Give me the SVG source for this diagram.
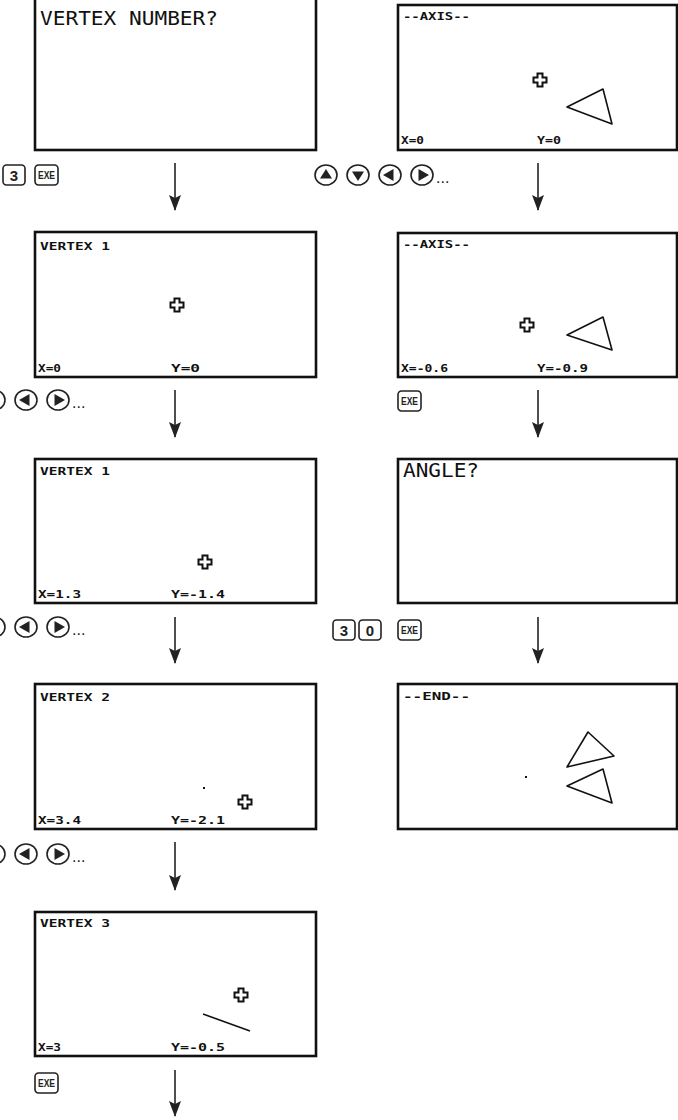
<svg xmlns="http://www.w3.org/2000/svg" width="678" height="1120" viewBox="0 0 678 1120">
<style>
.scr{fill:#fff;stroke:#111;stroke-width:2.6}
.big{font-family:"DejaVu Sans Mono","Liberation Mono",monospace;font-size:19px;fill:#111}
.lcd{font-family:"DejaVu Sans Mono","Liberation Mono",monospace;font-size:11px;font-weight:bold;fill:#111}
.tri{fill:none;stroke:#111;stroke-width:1.6;stroke-linejoin:round}
.cur{fill:#fff;stroke:#111;stroke-width:2}
.key{fill:#fff;stroke:#222;stroke-width:1.6}
.ktxt{font-family:"Liberation Sans",Arial,sans-serif;font-weight:bold;fill:#222;text-anchor:middle}
.btn{fill:#fff;stroke:#222;stroke-width:1.6}
.dots{font-family:"Liberation Sans",Arial,sans-serif;font-size:16px;fill:#222}
.conn{stroke:#222;stroke-width:1.6;fill:none}
</style>
<defs>
<path id="cross" class="cur" d="M-2.5,-6.5 h5 v4 h4 v5 h-4 v4 h-5 v-4 h-4 v-5 h4 z"/>
<marker id="ah" markerUnits="userSpaceOnUse" markerWidth="16" markerHeight="12" refX="15" refY="6" orient="auto" viewBox="0 0 16 12">
<path d="M0,0 L3,6 L0,12 L16,6 z" fill="#222"/>
</marker>
<g id="kup"><ellipse class="btn" rx="11" ry="10"/><path d="M0,-6 L6,3.5 L-6,3.5 z" fill="#222"/></g>
<g id="kdn"><ellipse class="btn" rx="11" ry="10"/><path d="M0,6 L6,-3.5 L-6,-3.5 z" fill="#222"/></g>
<g id="klt"><ellipse class="btn" rx="11" ry="10"/><path d="M-7,0 L3.5,-6 L3.5,6 z" fill="#222"/></g>
<g id="krt"><ellipse class="btn" rx="11" ry="10"/><path d="M7,0 L-3.5,-6 L-3.5,6 z" fill="#222"/></g>
<g id="kexe"><rect class="key" x="0" y="0" width="23" height="20" rx="3.5"/><text class="ktxt" x="11.5" y="14" font-size="10" textLength="17" lengthAdjust="spacingAndGlyphs">EXE</text></g>
</defs>

<g id="connectors">
<line class="conn" x1="175" y1="163" x2="175" y2="210" marker-end="url(#ah)"/>
<line class="conn" x1="175" y1="390" x2="175" y2="437" marker-end="url(#ah)"/>
<line class="conn" x1="175" y1="617" x2="175" y2="663" marker-end="url(#ah)"/>
<line class="conn" x1="175" y1="842" x2="175" y2="890" marker-end="url(#ah)"/>
<line class="conn" x1="175" y1="1070" x2="175" y2="1116" marker-end="url(#ah)"/>
<line class="conn" x1="538" y1="163" x2="538" y2="210" marker-end="url(#ah)"/>
<line class="conn" x1="538" y1="390" x2="538" y2="437" marker-end="url(#ah)"/>
<line class="conn" x1="538" y1="617" x2="538" y2="663" marker-end="url(#ah)"/>
</g>

<g id="screen-vertex-number">
<rect class="scr" x="35" y="-2" width="281" height="152"/>
<text class="big" x="40" y="25" textLength="178" lengthAdjust="spacingAndGlyphs">VERTEX NUMBER?</text>
</g>

<g id="screen-vertex1-a">
<rect class="scr" x="35" y="232" width="281" height="145"/>
<text class="lcd" x="40" y="250" textLength="70" lengthAdjust="spacingAndGlyphs">VERTEX 1</text>
<use href="#cross" x="177" y="305"/>
<text class="lcd" x="38" y="372" textLength="23" lengthAdjust="spacingAndGlyphs">X=0</text>
<text class="lcd" x="171" y="372" textLength="29" lengthAdjust="spacingAndGlyphs">Y=0</text>
</g>

<g id="screen-vertex1-b">
<rect class="scr" x="35" y="459" width="281" height="144"/>
<text class="lcd" x="40" y="475" textLength="70" lengthAdjust="spacingAndGlyphs">VERTEX 1</text>
<use href="#cross" x="205" y="562"/>
<text class="lcd" x="38" y="598" textLength="43" lengthAdjust="spacingAndGlyphs">X=1.3</text>
<text class="lcd" x="171" y="598" textLength="54" lengthAdjust="spacingAndGlyphs">Y=-1.4</text>
</g>

<g id="screen-vertex2">
<rect class="scr" x="35" y="684" width="281" height="145"/>
<text class="lcd" x="40" y="701" textLength="70" lengthAdjust="spacingAndGlyphs">VERTEX 2</text>
<rect x="203" y="787" width="2" height="2" fill="#111"/>
<use href="#cross" x="245" y="802"/>
<text class="lcd" x="38" y="824" textLength="43" lengthAdjust="spacingAndGlyphs">X=3.4</text>
<text class="lcd" x="171" y="824" textLength="54" lengthAdjust="spacingAndGlyphs">Y=-2.1</text>
</g>

<g id="screen-vertex3">
<rect class="scr" x="35" y="912" width="281" height="144"/>
<text class="lcd" x="40" y="927" textLength="70" lengthAdjust="spacingAndGlyphs">VERTEX 3</text>
<use href="#cross" x="241" y="995"/>
<line class="tri" x1="203" y1="1014" x2="250" y2="1031"/>
<text class="lcd" x="38" y="1051" textLength="23" lengthAdjust="spacingAndGlyphs">X=3</text>
<text class="lcd" x="171" y="1051" textLength="54" lengthAdjust="spacingAndGlyphs">Y=-0.5</text>
</g>

<g id="screen-axis-a">
<rect class="scr" x="398" y="5" width="279" height="145"/>
<text class="lcd" x="403" y="20" textLength="67" lengthAdjust="spacingAndGlyphs">--AXIS--</text>
<use href="#cross" x="540" y="80"/>
<polygon class="tri" points="567,107 603,89 612,124"/>
<text class="lcd" x="401" y="144" textLength="23" lengthAdjust="spacingAndGlyphs">X=0</text>
<text class="lcd" x="537" y="144" textLength="24" lengthAdjust="spacingAndGlyphs">Y=0</text>
</g>

<g id="screen-axis-b">
<rect class="scr" x="398" y="233" width="279" height="144"/>
<text class="lcd" x="403" y="248" textLength="67" lengthAdjust="spacingAndGlyphs">--AXIS--</text>
<use href="#cross" x="527" y="325"/>
<polygon class="tri" points="567,335 603,317 612,350"/>
<text class="lcd" x="401" y="372" textLength="47" lengthAdjust="spacingAndGlyphs">X=-0.6</text>
<text class="lcd" x="537" y="372" textLength="51" lengthAdjust="spacingAndGlyphs">Y=-0.9</text>
</g>

<g id="screen-angle">
<rect class="scr" x="398" y="459" width="279" height="144"/>
<text class="big" x="403" y="477" textLength="76" lengthAdjust="spacingAndGlyphs">ANGLE?</text>
</g>

<g id="screen-end">
<rect class="scr" x="398" y="684" width="279" height="145"/>
<text class="lcd" x="403" y="700" textLength="67" lengthAdjust="spacingAndGlyphs">--END--</text>
<polygon class="tri" points="567,767 588,732 614,756"/>
<polygon class="tri" points="567,786 603,769 612,803"/>
<rect x="525" y="776" width="2" height="2" fill="#111"/>
</g>

<g id="keys-row1-left">
<rect class="key" x="3" y="165" width="22" height="20" rx="3.5"/>
<text class="ktxt" x="14" y="180.5" font-size="15">3</text>
<use href="#kexe" x="35" y="165"/>
</g>
<g id="keys-row1-right">
<use href="#kup" x="326" y="175"/>
<use href="#kdn" x="358" y="175"/>
<use href="#klt" x="390" y="175"/>
<use href="#krt" x="422" y="175"/>
<text class="dots" x="436" y="183">...</text>
</g>
<g id="keys-row2-left">
<use href="#kdn" x="-6" y="400"/>
<use href="#klt" x="26" y="400"/>
<use href="#krt" x="58" y="400"/>
<text class="dots" x="72" y="408">...</text>
</g>
<g id="keys-row2-right">
<use href="#kexe" x="398" y="391"/>
</g>
<g id="keys-row3-left">
<use href="#kdn" x="-6" y="627"/>
<use href="#klt" x="26" y="627"/>
<use href="#krt" x="58" y="627"/>
<text class="dots" x="72" y="635">...</text>
</g>
<g id="keys-row3-right">
<rect class="key" x="333" y="620" width="22" height="20" rx="3.5"/>
<text class="ktxt" x="344" y="635.5" font-size="15">3</text>
<rect class="key" x="359" y="620" width="22" height="20" rx="3.5"/>
<text class="ktxt" x="370" y="635.5" font-size="15">0</text>
<use href="#kexe" x="398" y="620"/>
</g>
<g id="keys-row4-left">
<use href="#kdn" x="-6" y="854"/>
<use href="#klt" x="26" y="854"/>
<use href="#krt" x="58" y="854"/>
<text class="dots" x="72" y="862">...</text>
</g>
<g id="keys-row5-left">
<use href="#kexe" x="35" y="1073"/>
</g>
</svg>
